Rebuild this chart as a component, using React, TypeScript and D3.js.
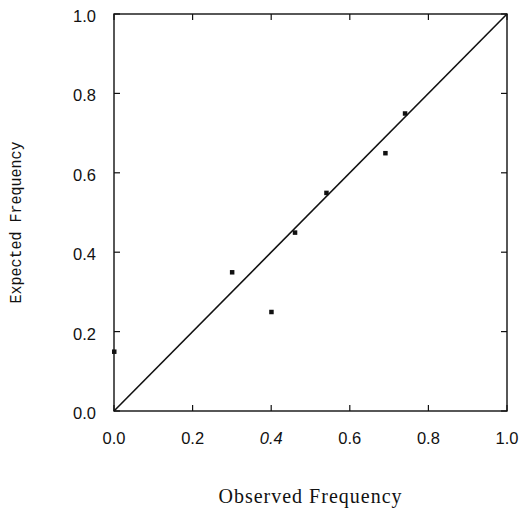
import React from "react";
import * as d3 from "d3";

const observed = [0.0, 0.3, 0.4, 0.46, 0.54, 0.69, 0.74];
const expected = [0.15, 0.35, 0.25, 0.45, 0.55, 0.65, 0.75];
const tickValues = [0, 0.2, 0.4, 0.6, 0.8, 1.0];
const tickLabels = ["0.0", "0.2", "0.4", "0.6", "0.8", "1.0"];
const diagonal = [0, 1];
const xTitle = "Observed Frequency";
const yTitle = "Expected Frequency";

const W = 525;
const H = 510;
const left = 114;
const right = 507;
const top = 14;
const bottom = 411;
const tickLen = 6;

export default function App() {
  const x = d3.scaleLinear().domain([0, 1]).range([left, right]);
  const y = d3.scaleLinear().domain([0, 1]).range([bottom, top]);
  const line = d3
    .line<number>()
    .x((d) => x(d))
    .y((d) => y(d));

  return (
    <svg
      width={W}
      height={H}
      style={{ position: "absolute", left: 0, top: 0, background: "#fff" }}
    >
      <rect x={0} y={0} width={W} height={H} fill="#fff" />
      {/* frame */}
      <rect
        x={left}
        y={top}
        width={right - left}
        height={bottom - top}
        fill="none"
        stroke="#111"
        strokeWidth={1.4}
      />
      {/* ticks on all four sides, inward */}
      {tickValues.map((t, i) => (
        <g key={"t" + i}>
          <line x1={x(t)} x2={x(t)} y1={bottom} y2={bottom - tickLen} stroke="#111" strokeWidth={1.2} />
          <line x1={x(t)} x2={x(t)} y1={top} y2={top + tickLen} stroke="#111" strokeWidth={1.2} />
          <line x1={left} x2={left + tickLen} y1={y(t)} y2={y(t)} stroke="#111" strokeWidth={1.2} />
          <line x1={right} x2={right - tickLen} y1={y(t)} y2={y(t)} stroke="#111" strokeWidth={1.2} />
        </g>
      ))}
      {/* x tick labels */}
      {tickValues.map((t, i) => (
        <text
          key={"xl" + i}
          x={x(t)}
          y={bottom + 33}
          textAnchor="middle"
          fontFamily="'Liberation Sans', Arial, sans-serif"
          fontSize={16.5}
          fontStyle={tickLabels[i] === "0.4" ? "italic" : "normal"}
          fill="#111"
        >
          {tickLabels[i]}
        </text>
      ))}
      {/* y tick labels */}
      {tickValues.map((t, i) => (
        <text
          key={"yl" + i}
          x={left - 18}
          y={y(t) + 8}
          textAnchor="end"
          fontFamily="'Liberation Sans', Arial, sans-serif"
          fontSize={16.5}
          fill="#111"
        >
          {tickLabels[i]}
        </text>
      ))}
      {/* diagonal */}
      <path d={line(diagonal) || ""} fill="none" stroke="#111" strokeWidth={1.6} />
      {/* points */}
      {observed.map((o, i) => (
        <rect
          key={"p" + i}
          x={x(o) - 2}
          y={y(expected[i]) - 2}
          width={4.5}
          height={4.5}
          fill="#111"
        />
      ))}
      {/* axis titles */}
      <text
        x={(left + right) / 2}
        y={503}
        textAnchor="middle"
        fontFamily="'Liberation Serif', 'Times New Roman', serif"
        fontSize={20}
        letterSpacing={1}
        fill="#111"
      >
        {xTitle}
      </text>
      <text
        transform={`translate(21, ${(top + bottom) / 2 + 10}) rotate(-90) scale(1, 1.15)`}
        textAnchor="middle"
        fontFamily="'Liberation Mono', 'Courier New', monospace"
        fontSize={15}
        fill="#111"
      >
        {yTitle}
      </text>
    </svg>
  );
}
